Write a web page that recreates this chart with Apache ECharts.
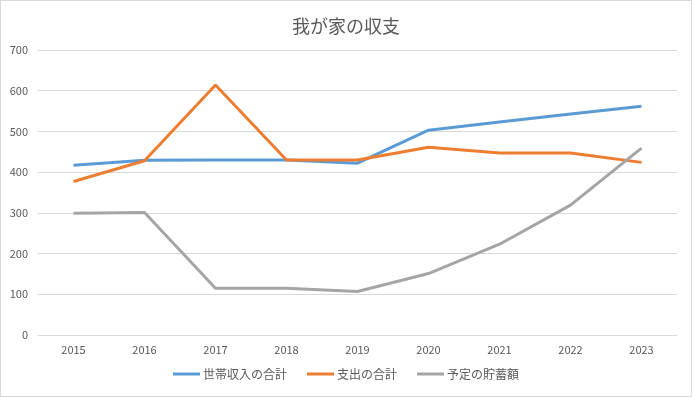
<!DOCTYPE html>
<html>
<head>
<meta charset="utf-8">
<script src="https://cdn.jsdelivr.net/npm/echarts@6/dist/echarts.min.js"></script>
<style>
html, body { margin: 0; padding: 0; background: #fff; }
#main { width: 690px; height: 395px; border: 1px solid #d9d9d9; }
</style>
</head>
<body>
<div id="main"></div>
<script>
var years = ['2015', '2016', '2017', '2018', '2019', '2020', '2021', '2022', '2023'];
var income = [417, 429, 430, 430, 422, 503, 523, 543, 562];
var expense = [377, 428, 614, 430, 430, 461, 447, 447, 424];
var savings = [299, 301, 115, 115, 107, 151, 223, 319, 459];

var myChart = echarts.init(document.getElementById('main'));

function lineSeries(name, data, color) {
    return {
        name: name,
        type: 'line',
        data: data,
        symbol: 'none',
        lineStyle: { color: color, width: 3 },
        itemStyle: { color: color }
    };
}

option = {
    animation: false,
    textStyle: { fontFamily: 'Noto Sans CJK JP' },
    title: {
        text: '我が家の収支',
        left: 'center',
        top: 11,
        textStyle: { fontSize: 18, fontWeight: 'normal', color: '#595959' }
    },
    grid: { left: 37, right: 14, top: 49, bottom: 61 },
    legend: {
        bottom: 11,
        left: 'center',
        icon: 'rect',
        itemWidth: 27,
        itemHeight: 3,
        itemGap: 20,
        textStyle: { fontSize: 12, color: '#595959', padding: [0, 0, 0, -2] },
        data: ['世帯収入の合計', '支出の合計', '予定の貯蓄額']
    },
    xAxis: {
        type: 'category',
        data: years,
        boundaryGap: true,
        axisLine: { lineStyle: { color: '#d9d9d9' } },
        axisTick: { show: false },
        axisLabel: { color: '#595959', fontSize: 11, margin: 9 }
    },
    yAxis: {
        type: 'value',
        min: 0,
        max: 700,
        interval: 100,
        axisLine: { show: false },
        axisTick: { show: false },
        axisLabel: { color: '#595959', fontSize: 11, margin: 10 },
        splitLine: { lineStyle: { color: '#d9d9d9' } }
    },
    series: [
        lineSeries('世帯収入の合計', income, '#5B9BD5'),
        lineSeries('支出の合計', expense, '#ED7D31'),
        lineSeries('予定の貯蓄額', savings, '#A5A5A5')
    ]
};
myChart.setOption(option);
</script>
</body>
</html>
